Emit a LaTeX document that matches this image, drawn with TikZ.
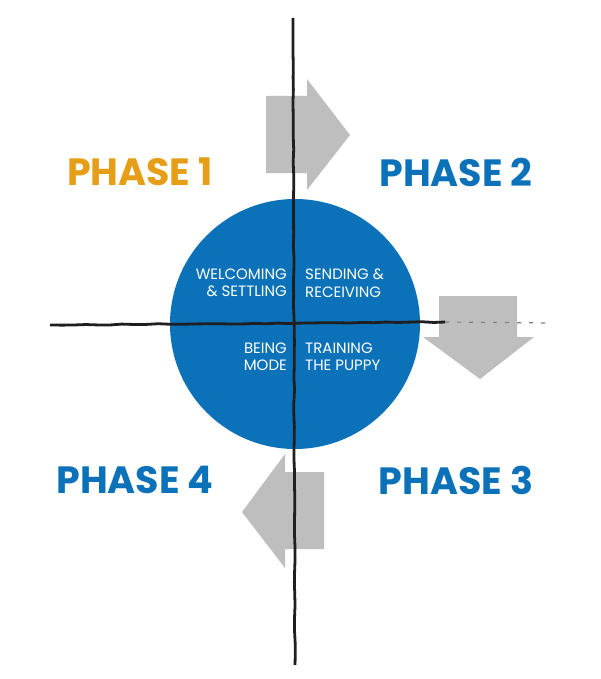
\documentclass[tikz,border=0pt]{standalone}
\usepackage{fontspec}
\setmainfont{Poppins}
\usetikzlibrary{decorations.pathmorphing}
\definecolor{phaseblue}{HTML}{0B72BA}
\definecolor{phaseorange}{HTML}{E59E16}
\definecolor{arrowgray}{HTML}{BEBEBE}
\tikzset{
    phase/.style={font=\bfseries\fontsize{38}{38}\selectfont, text=phaseblue, inner sep=0pt},
    quarter/.style={font=\fontsize{15}{17.5}\selectfont, text=white, align=#1, inner sep=0pt},
    roughline/.style={line width=2.8, black!88, decorate,
        decoration={random steps, segment length=12, amplitude=0.45}},
    bigarrow/.style={fill=arrowgray, draw=none},
}

\begin{document}
\begin{tikzpicture}[x=1pt,y=-1pt]
    \useasboundingbox (0,0) rectangle (600,679);
    \fill[phaseblue] (295,324) circle (125);
    % turning arrows
    \fill[bigarrow] (266,96) -- (307,96) -- (307,79) -- (350,135) -- (307,190) -- (307,173) -- (266,173) -- cycle;
    \fill[bigarrow] (439,296) -- (517,296) -- (517,337) -- (534,337) -- (480,379) -- (423,337) -- (439,337) -- cycle;
    \fill[bigarrow] (324,472) -- (285,472) -- (285,454) -- (242,512) -- (285,568) -- (285,549) -- (324,549) -- cycle;
    % axes
    \coordinate (top) at (293,18);
    \coordinate (bottom) at (295,665);
    \coordinate (left) at (50,325);
    \coordinate (fade) at (445,322);
    \coordinate (right) at (552,323);
    \draw[roughline] (top) -- (bottom);
    \draw[roughline] (left) -- (fade);
    \draw[black!50, line width=1.2, dash pattern=on 4 off 8] (fade) -- (right);
    % phases
    \node[phase, text=phaseorange] (p1) at (140,172) {PHASE 1};
    \node[phase] (p2) at (456,172) {PHASE 2};
    \node[phase] (p3) at (456,480) {PHASE 3};
    \node[phase] (p4) at (135,480) {PHASE 4};
    % quarters
    \node[quarter=right, anchor=east] (q1) at (287,283) {WELCOMING\\\& SETTLING};
    \node[quarter=left, anchor=west] (q2) at (305,283) {SENDING \&\\RECEIVING};
    \node[quarter=left, anchor=west] (q3) at (305,357) {TRAINING\\THE PUPPY};
    \node[quarter=right, anchor=east] (q4) at (287,357) {BEING\\MODE};
\end{tikzpicture}
\end{document}
